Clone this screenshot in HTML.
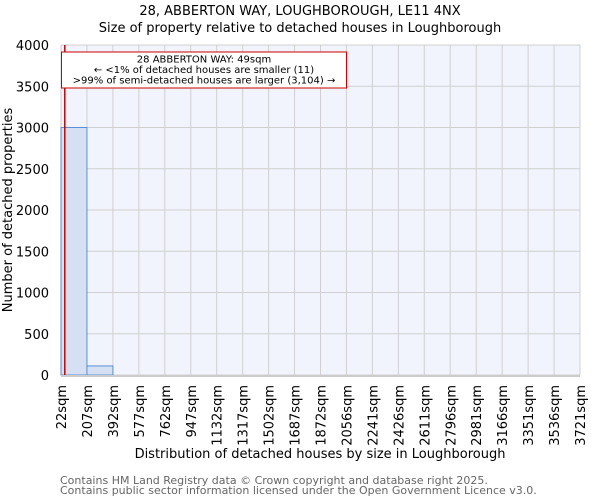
<!DOCTYPE html>
<html><head><meta charset="utf-8"><style>
body{margin:0;background:#fff;font-family:"DejaVu Sans","Liberation Sans",sans-serif;}
svg text{font-family:"DejaVu Sans","Liberation Sans",sans-serif;}
</style></head><body>
<svg id="c" width="600" height="500" xmlns="http://www.w3.org/2000/svg">
<text x="300" y="15" text-anchor="middle" font-size="13">28, ABBERTON WAY, LOUGHBOROUGH, LE11 4NX</text>
<text x="300" y="32" text-anchor="middle" font-size="13">Size of property relative to detached houses in Loughborough</text>
<rect x="61" y="45" width="519" height="330" fill="#f1f4fc"/>
<g id="grid"></g><g id="bars"></g><g id="axes"></g>
<text x="320" y="458" text-anchor="middle" font-size="13">Distribution of detached houses by size in Loughborough</text>
<text transform="translate(12,210) rotate(-90)" text-anchor="middle" font-size="13">Number of detached properties</text>
<text x="60" y="484" font-size="11" fill="#666">Contains HM Land Registry data © Crown copyright and database right 2025.</text>
<text x="60" y="494" font-size="11" fill="#666">Contains public sector information licensed under the Open Government Licence v3.0.</text>
</svg>
<script>
const tickLabels=["22sqm","207sqm","392sqm","577sqm","762sqm","947sqm","1132sqm","1317sqm","1502sqm","1687sqm","1872sqm","2056sqm","2241sqm","2426sqm","2611sqm","2796sqm","2981sqm","3166sqm","3351sqm","3536sqm","3721sqm"];
const counts=[3000,110,0,0,0,0,0,0,0,0,0,0,0,0,0,0,0,0,0,0];
const yTicks=[0,500,1000,1500,2000,2500,3000,3500,4000];
const propertySize=49;
const binStart=22, binWidth=185;
const NS="http://www.w3.org/2000/svg";
const X0=61,X1=580,Y0=375,Y1=45;
const xs=v=>X0+(v-binStart)/(binWidth*counts.length)*(X1-X0);
const ys=v=>Y0-v/4000*(Y0-Y1);
function mk(t,a,p){const e=document.createElementNS(NS,t);for(const k in a)e.setAttribute(k,a[k]);p.appendChild(e);return e;}
const g=document.getElementById('grid'),b=document.getElementById('bars'),ax=document.getElementById('axes');
yTicks.forEach(v=>{const l=mk('line',{x1:X0,x2:X1,y1:ys(v),y2:ys(v),stroke:'#d0d0d0'},g);


const t=mk('text',{x:X0-12,y:ys(v)+5,'text-anchor':'end','font-size':13},ax);t.textContent=v;

});
tickLabels.forEach((s,i)=>{const x=xs(binStart+i*binWidth);
const l=mk('line',{x1:x,x2:x,y1:Y1,y2:Y0,stroke:'#d0d0d0'},g);


const t=mk('text',{transform:`translate(${x+5},385) rotate(-90)`,'text-anchor':'end','font-size':13},ax);t.textContent=s;

});
counts.forEach((c,i)=>{if(!c)return;const x=xs(binStart+i*binWidth),w=xs(binStart+(i+1)*binWidth)-x;
const r=mk('rect',{x:x,y:ys(c),width:w,height:Y0-ys(c),fill:'#d6e0f3',stroke:'#5b8fd6','stroke-width':1},b);

});
const bl=mk('line',{x1:X0,x2:X1,y1:Y0+1,y2:Y0+1,stroke:'#ccc','stroke-width':2},ax);


const px=xs(propertySize);
const ml=mk('line',{x1:px,x2:px,y1:Y1,y2:Y0,stroke:'#cc0000','stroke-width':1.5},ax);


const box=mk('rect',{x:61.5,y:52,width:285,height:36,fill:'#fff',stroke:'#cc0000'},ax);


["28 ABBERTON WAY: 49sqm","← <1% of detached houses are smaller (11)",">99% of semi-detached houses are larger (3,104) →"].forEach((s,i)=>{
const t=mk('text',{x:204,y:62.5+i*10.5,'text-anchor':'middle','font-size':10},ax);t.textContent=s;

});
</script>
</body></html>
